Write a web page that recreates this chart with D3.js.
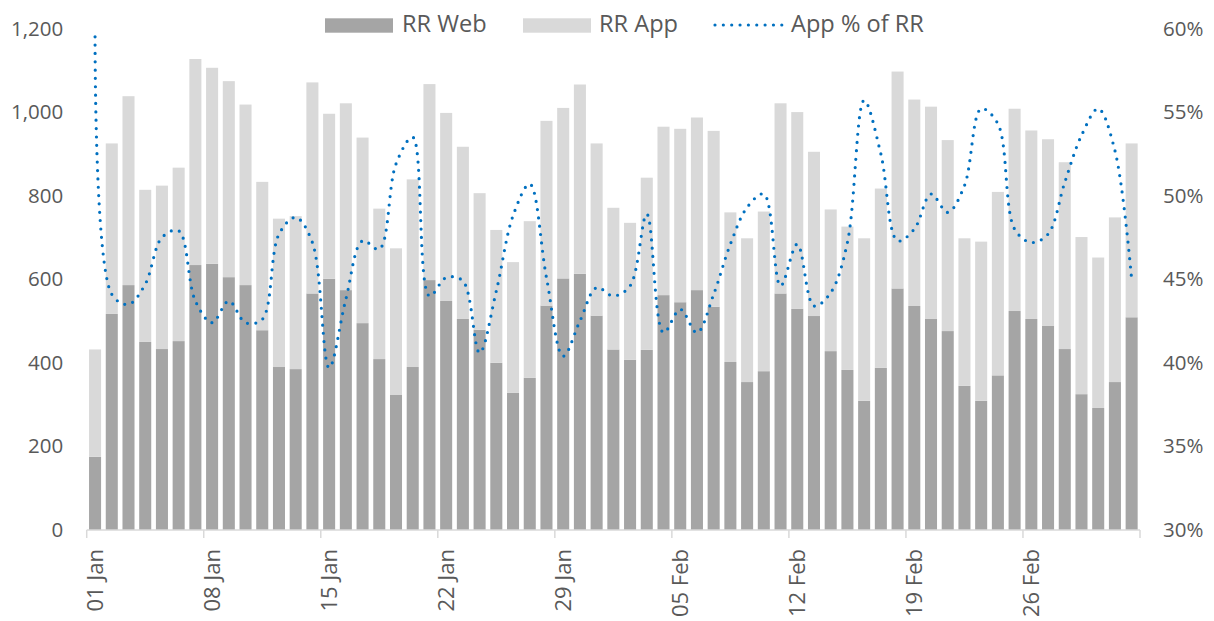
<!DOCTYPE html>
<html lang="en">
<head>
    <meta charset="UTF-8">
    <title>RR Web vs App</title>
    <script src="https://d3js.org/d3.v7.min.js"></script>
    <style>
        body { margin: 0; background: #fff; }
        text { font-family: "Open Sans", sans-serif; fill: #595959; }
    </style>
</head>
<body>
<script>
    const width  = 1214;
    const height = 621;

    // daily values, 01 Jan - 04 Mar
    const startDay = new Date(2018, 0, 1);
    const endDay   = new Date(2018, 2, 5);
    const rrWeb = [175, 517, 586, 450, 433, 452, 634, 637, 605, 586, 478, 390, 385, 566, 601, 574,
                   495, 409, 324, 390, 598, 548, 505, 479, 400, 328, 364, 537, 602, 613, 513, 432,
                   407, 431, 562, 545, 574, 534, 402, 354, 380, 566, 529, 512, 428, 383, 309, 388,
                   578, 536, 505, 476, 345, 309, 370, 524, 505, 489, 433, 325, 292, 354, 509];
    const rrApp = [257, 408, 452, 364, 391, 415, 493, 469, 469, 432, 355, 355, 366, 505, 395, 447,
                   444, 360, 350, 449, 469, 450, 412, 327, 318, 313, 375, 442, 408, 453, 412, 339,
                   328, 412, 403, 415, 413, 421, 358, 344, 382, 455, 471, 393, 339, 343, 389, 429,
                   519, 494, 508, 457, 353, 381, 439, 484, 451, 446, 447, 376, 360, 394, 416];
    const appShare = [59.5, 44.1, 43.5, 44.7, 47.5, 47.9, 43.7, 42.4, 43.7, 42.4, 42.6, 47.7, 48.7, 47.2, 39.7, 43.8,
                      47.3, 46.8, 51.9, 53.5, 44.0, 45.1, 44.9, 40.6, 44.3, 48.8, 50.7, 45.1, 40.4, 42.5, 44.5, 44.0,
                      44.6, 48.9, 41.8, 43.2, 41.8, 44.1, 47.1, 49.3, 50.1, 44.6, 47.1, 43.4, 44.2, 47.2, 55.7, 52.5,
                      47.3, 48.0, 50.1, 49.0, 50.6, 55.2, 54.3, 48.0, 47.2, 47.7, 50.8, 53.6, 55.2, 52.7, 45.0];
    const tickLabels = ["01 Jan", "08 Jan", "15 Jan", "22 Jan", "29 Jan", "05 Feb", "12 Feb", "19 Feb", "26 Feb"];
    const leftTicks  = [0, 200, 400, 600, 800, 1000, 1200];
    const rightTicks = [0.30, 0.35, 0.40, 0.45, 0.50, 0.55, 0.60];
    const seriesNames = ["RR Web", "RR App", "App % of RR"];

    const fmtDay = d3.timeFormat("%d %b");
    const days = d3.timeDays(startDay, endDay).map(fmtDay);

    const data = days.map((d, i) => ({day: d, web: rrWeb[i], app: rrApp[i], share: appShare[i] / 100}));

    const x = d3.scaleBand()
            .domain(days)
            .range([86.7, 1140])
            .paddingInner(0.28)
            .paddingOuter(0.14);

    const y = d3.scaleLinear()
            .domain([0, 1200])
            .range([530, 28.5]);

    const y2 = d3.scaleLinear()
            .domain([0.3, 0.6])
            .range([530, 28.5]);

    const svg = d3.select("body")
            .append("svg")
            .attr("width", width)
            .attr("height", height);

    // stacked bars
    const stack = d3.stack().keys(["web", "app"])(data);
    const colors = {web: "#a5a5a5", app: "#d9d9d9"};

    svg.append("g")
        .selectAll("g")
        .data(stack)
        .join("g")
          .attr("fill", s => colors[s.key])
        .selectAll("rect")
        .data(s => s)
        .join("rect")
          .attr("x", d => x(d.data.day))
          .attr("width", x.bandwidth())
          .attr("y", d => y(d[1]))
          .attr("height", d => y(d[0]) - y(d[1]));

    // x axis line + weekly ticks on category boundaries
    const half = (x.step() - x.bandwidth()) / 2;
    const gx = svg.append("g");
    gx.append("line")
        .attr("x1", x.range()[0]).attr("x2", x.range()[1])
        .attr("y1", 530).attr("y2", 530)
        .attr("stroke", "#d9d9d9").attr("stroke-width", 1.5);
    const tickPos = tickLabels.map(t => x(t) - half).concat([x.range()[1]]);
    gx.selectAll(".tk")
        .data(tickPos)
        .join("line")
          .attr("x1", d => d).attr("x2", d => d)
          .attr("y1", 530).attr("y2", 538)
          .attr("stroke", "#d9d9d9").attr("stroke-width", 1.5);

    svg.append("g")
        .attr("transform", "translate(0,530)")
        .call(d3.axisBottom(x).tickValues(tickLabels).tickSize(0))
        .call(g => g.select(".domain").remove())
        .selectAll("text")
          .attr("font-size", 22)
          .attr("text-anchor", "end")
          .attr("transform", "translate(0,19) rotate(-90)")
          .attr("x", 0).attr("y", 0).attr("dy", "0.36em");

    // left axis
    svg.append("g")
        .attr("transform", "translate(86.7,0)")
        .call(d3.axisLeft(y).tickValues(leftTicks).tickFormat(d3.format(",")).tickSize(0).tickPadding(23.5))
        .call(g => g.select(".domain").remove())
        .selectAll("text").attr("font-size", 20.5);

    // right axis
    svg.append("g")
        .attr("transform", "translate(1140,0)")
        .call(d3.axisRight(y2).tickValues(rightTicks).tickFormat(d3.format(".0%")).tickSize(0).tickPadding(23))
        .call(g => g.select(".domain").remove())
        .selectAll("text").attr("font-size", 20.5);

    svg.selectAll(".tick text").attr("fill", "#595959");

    // share line
    const line = d3.line()
            .x(d => x(d.day) + x.bandwidth() / 2)
            .y(d => y2(d.share))
            .curve(d3.curveCatmullRom.alpha(0.5));

    svg.append("path")
        .datum(data)
        .attr("d", line)
        .attr("fill", "none")
        .attr("stroke", "#0070c0")
        .attr("stroke-width", 3.2)
        .attr("stroke-linecap", "round")
        .attr("stroke-dasharray", "0 8.35");

    // legend
    const legend = svg.append("g");
    legend.append("rect").attr("x", 325).attr("y", 18.3).attr("width", 68).attr("height", 14.4).attr("fill", colors.web);
    legend.append("text").attr("x", 402).attr("y", 32).attr("font-size", 23.6).text(seriesNames[0]);
    legend.append("rect").attr("x", 523).attr("y", 18.3).attr("width", 68).attr("height", 14.4).attr("fill", colors.app);
    legend.append("text").attr("x", 599).attr("y", 32).attr("font-size", 23.6).text(seriesNames[1]);
    legend.append("line")
        .attr("x1", 715).attr("x2", 783).attr("y1", 25).attr("y2", 25)
        .attr("stroke", "#0070c0").attr("stroke-width", 3.2)
        .attr("stroke-linecap", "round").attr("stroke-dasharray", "0 8.35");
    legend.append("text").attr("x", 791).attr("y", 32).attr("font-size", 23.6).text(seriesNames[2]);
</script>
</body>
</html>
